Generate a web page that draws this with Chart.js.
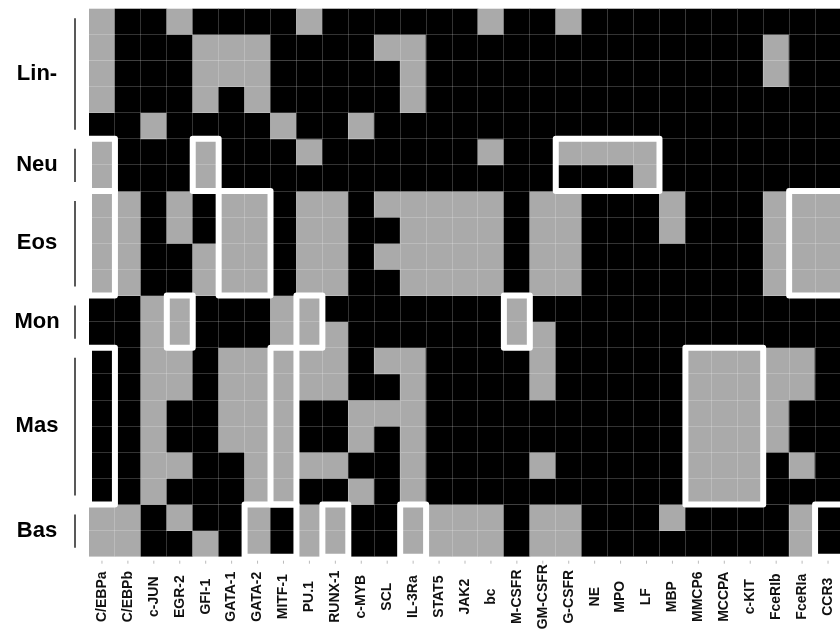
<!DOCTYPE html>
<html>
<head>
<meta charset="utf-8">
<script src="https://cdn.jsdelivr.net/npm/chart.js@4.4.1/dist/chart.umd.min.js"></script>
<style>
html,body{margin:0;padding:0;overflow:hidden;background:#fff;}
#wrap{position:absolute;left:0;top:0;width:870px;height:650px;}
</style>
</head>
<body>
<div id="wrap"><canvas id="c"></canvas></div>
<script>
// column (gene) labels
const genes = ['C/EBPa','C/EBPb','c-JUN','EGR-2','GFI-1','GATA-1','GATA-2','MITF-1','PU.1','RUNX-1',
  'c-MYB','SCL','IL-3Ra','STAT5','JAK2','bc','M-CSFR','GM-CSFR','G-CSFR','NE','MPO','LF','MBP',
  'MMCP6','MCCPA','c-KIT','FceRIb','FceRIa','CCR3'];

// cell values per group: 1 = expressed (grey), 0 = not expressed (black)
const linRows = [
  [1,0,0,1,0,0,0,0,1,0,0,0,0,0,0,1,0,0,1,0,0,0,0,0,0,0,0,0,0],
  [1,0,0,0,1,1,1,0,0,0,0,1,1,0,0,0,0,0,0,0,0,0,0,0,0,0,1,0,0],
  [1,0,0,0,1,1,1,0,0,0,0,0,1,0,0,0,0,0,0,0,0,0,0,0,0,0,1,0,0],
  [1,0,0,0,1,0,1,0,0,0,0,0,1,0,0,0,0,0,0,0,0,0,0,0,0,0,0,0,0],
  [0,0,1,0,0,0,0,1,0,0,1,0,0,0,0,0,0,0,0,0,0,0,0,0,0,0,0,0,0]
];
const neuRows = [
  [1,0,0,0,1,0,0,0,1,0,0,0,0,0,0,1,0,0,1,1,1,1,0,0,0,0,0,0,0],
  [1,0,0,0,1,0,0,0,0,0,0,0,0,0,0,0,0,0,0,0,0,1,0,0,0,0,0,0,0]
];
const eosRows = [
  [1,1,0,1,0,1,1,0,1,1,0,1,1,1,1,1,0,1,1,0,0,0,1,0,0,0,1,1,1],
  [1,1,0,1,0,1,1,0,1,1,0,0,1,1,1,1,0,1,1,0,0,0,1,0,0,0,1,1,1],
  [1,1,0,0,1,1,1,0,1,1,0,1,1,1,1,1,0,1,1,0,0,0,0,0,0,0,1,1,1],
  [1,1,0,0,1,1,1,0,1,1,0,0,1,1,1,1,0,1,1,0,0,0,0,0,0,0,1,1,1]
];
const monRows = [
  [0,0,1,1,0,0,0,1,1,0,0,0,0,0,0,0,1,0,0,0,0,0,0,0,0,0,0,0,0],
  [0,0,1,1,0,0,0,1,1,1,0,0,0,0,0,0,1,1,0,0,0,0,0,0,0,0,0,0,0]
];
const masRows = [
  [0,0,1,1,0,1,1,1,1,1,0,1,1,0,0,0,0,1,0,0,0,0,0,1,1,1,1,1,0],
  [0,0,1,1,0,1,1,1,1,1,0,0,1,0,0,0,0,1,0,0,0,0,0,1,1,1,1,1,0],
  [0,0,1,0,0,1,1,1,0,0,1,1,1,0,0,0,0,0,0,0,0,0,0,1,1,1,1,0,0],
  [0,0,1,0,0,1,1,1,0,0,1,0,1,0,0,0,0,0,0,0,0,0,0,1,1,1,1,0,0],
  [0,0,1,1,0,0,1,1,1,1,0,0,1,0,0,0,0,1,0,0,0,0,0,1,1,1,0,1,0],
  [0,0,1,0,0,0,1,1,0,0,1,0,1,0,0,0,0,0,0,0,0,0,0,1,1,1,0,0,0]
];
const basRows = [
  [1,1,0,1,0,0,1,0,1,1,0,0,1,1,1,1,0,1,1,0,0,0,1,0,0,0,0,1,0],
  [1,1,0,0,1,0,1,0,1,1,0,0,1,1,1,1,0,1,1,0,0,0,0,0,0,0,0,1,0]
];

const groupNames = ['Lin-','Neu','Eos','Mon','Mas','Bas'];
const groupRows = [linRows, neuRows, eosRows, monRows, masRows, basRows];

// highlighted regions: [firstCol, lastCol, firstRow, lastRow]
const highlightBoxes = [
  [0,0,5,6],[0,0,7,10],[4,4,5,6],[5,6,7,10],[18,21,5,6],[27,29,7,10],
  [3,3,11,12],[8,8,11,12],[16,16,11,12],
  [0,0,13,18],[7,7,13,18],[23,25,13,18],
  [6,7,19,20],[9,9,19,20],[12,12,19,20],[28,29,19,20]
];

const GREY = '#aaaaaa', BLACK = '#000000';
const rows = groupRows.flat();
const nRows = rows.length;

const datasets = rows.map((row, r) => ({
  label: 'row' + r,
  data: row.map(() => [r, r + 1]),
  backgroundColor: row.map(v => v ? GREY : BLACK),
  borderWidth: 0,
  barPercentage: 1,
  categoryPercentage: 1,
  grouped: false
}));

const overlay = {
  id: 'overlay',
  afterDraw(chart) {
    const ctx = chart.ctx;
    const xs = chart.scales.x, ys = chart.scales.y;
    const cw = xs.width / genes.length;
    ctx.save();
    // highlight boxes
    ctx.strokeStyle = '#ffffff';
    ctx.lineWidth = 6;
    ctx.lineJoin = 'round';
    highlightBoxes.forEach(([c0, c1, r0, r1]) => {
      const x0 = xs.getPixelForValue(c0) - cw / 2;
      const x1 = xs.getPixelForValue(c1) + cw / 2;
      const y0 = ys.getPixelForValue(r0);
      const y1 = ys.getPixelForValue(r1 + 1);
      ctx.strokeRect(x0, y0, x1 - x0, y1 - y0);
    });
    // group labels + brackets
    let start = 0;
    groupRows.forEach((g, i) => {
      const yTop = ys.getPixelForValue(start);
      const yBot = ys.getPixelForValue(start + g.length);
      ctx.strokeStyle = '#222';
      ctx.lineWidth = 1.5;
      ctx.beginPath();
      ctx.moveTo(75, yTop + 10);
      ctx.lineTo(75, yBot - 9);
      ctx.stroke();
      ctx.fillStyle = '#000';
      ctx.font = 'bold 22px "Liberation Sans", Arial, sans-serif';
      ctx.textAlign = 'center';
      ctx.textBaseline = 'middle';
      ctx.fillText(groupNames[i], 37, (yTop + yBot) / 2);
      start += g.length;
    });
    // column tick marks and labels
    const yb = ys.getPixelForValue(nRows);
    genes.forEach((g, i) => {
      const x = xs.getPixelForValue(i);
      ctx.strokeStyle = '#bbbbbb';
      ctx.lineWidth = 1;
      ctx.beginPath();
      ctx.moveTo(x, yb + 4);
      ctx.lineTo(x, yb + 7);
      ctx.stroke();
      ctx.save();
      ctx.translate(x, yb + 40);
      ctx.rotate(-Math.PI / 2);
      ctx.fillStyle = '#111';
      ctx.font = 'bold 14px "Liberation Sans", Arial, sans-serif';
      ctx.textAlign = 'center';
      ctx.textBaseline = 'middle';
      ctx.fillText(g, 0, 0);
      ctx.restore();
    });
    ctx.restore();
  }
};

new Chart(document.getElementById('c'), {
  type: 'bar',
  data: { labels: genes, datasets: datasets },
  options: {
    responsive: true,
    maintainAspectRatio: false,
    animation: false,
    events: [],
    layout: { padding: { top: 8.3, right: 29, left: 0, bottom: 0 } },
    plugins: { legend: { display: false }, tooltip: { enabled: false } },
    scales: {
      x: {
        type: 'category',
        position: 'bottom',
        offset: true,
        grid: { offset: true, z: 1, color: 'rgba(255,255,255,0.2)', drawTicks: false },
        border: { display: false },
        ticks: { display: false },
        afterFit: s => { s.height = 93.3; }
      },
      y: {
        type: 'linear',
        min: 0,
        max: nRows,
        reverse: true,
        grid: { z: 1, color: 'rgba(255,255,255,0.2)', drawTicks: false },
        border: { display: false },
        ticks: { display: false, stepSize: 1 },
        afterFit: s => { s.height = s.height; s.width = 89; }
      }
    }
  },
  plugins: [overlay]
});
</script>
</body>
</html>
